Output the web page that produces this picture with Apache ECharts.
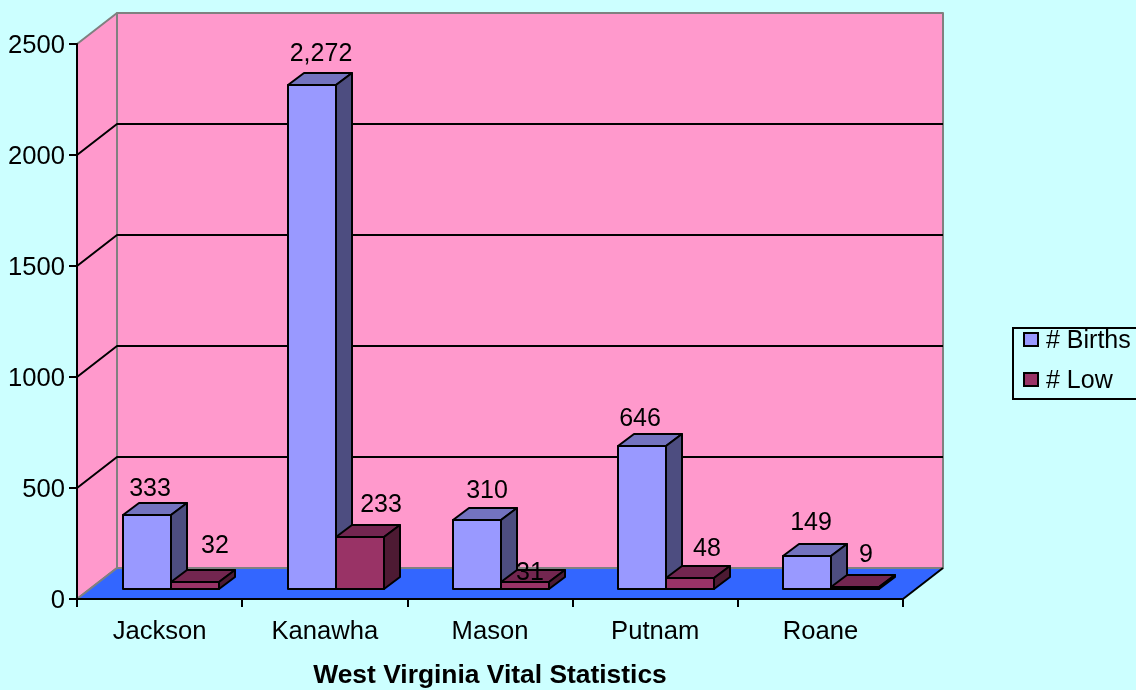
<!DOCTYPE html>
<html>
<head>
<meta charset="utf-8">
<style>html,body{margin:0;padding:0;background:#CCFFFF}#c{width:1136px;height:690px}</style>
<script src="https://cdn.jsdelivr.net/npm/echarts@6/dist/echarts.min.js"></script>
</head>
<body>
<div id="c"></div>
<script>
const categories = ['Jackson', 'Kanawha', 'Mason', 'Putnam', 'Roane'];
const births = [333, 2272, 310, 646, 149];
const low = [32, 233, 31, 48, 9];
const wallTicks = [500, 1000, 1500, 2000];
const axisTitle = 'West Virginia Vital Statistics';

// label placement relative to the bar's front-top centre (hand placed in the original)
const birthsNudge = [[3, -26], [9, -31], [10, -29], [-2, -27], [4, -33]];
const lowNudge = [[20, -36], [21, -32], [5, -9], [17, -29], [11, -32]];

const FONT = '"Liberation Sans", Arial, sans-serif';
const FS = 25;
const DEPTH = [40, -31];
const BAR_OFF = [13, -10];
const BAR_DEPTH = [16, -12];
const BAR_W = 48;

function poly(points, fill, stroke, lw) {
  return { type: 'polygon', silent: true, shape: { points },
    style: { fill, stroke: stroke || 'none', lineWidth: lw || 0, lineJoin: 'round' } };
}
function line(points, stroke) {
  return { type: 'polyline', silent: true, shape: { points },
    style: { fill: 'none', stroke, lineWidth: 2, lineJoin: 'round' } };
}

function renderRoom(params) {
  const g = params.coordSys;
  const l = g.x, r = g.x + g.width, t = g.y, b = g.y + g.height;
  const [dx, dy] = DEPTH;
  const grey = '#808080';
  return { type: 'group', children: [
    poly([[l + dx, t + dy], [r + dx, t + dy], [r + dx, b + dy], [l + dx, b + dy]], '#FF99CC', grey, 2),
    poly([[l, t], [l + dx, t + dy], [l + dx, b + dy], [l, b]], '#FF99CC', grey, 2),
    poly([[l, b], [l + dx, b + dy], [r + dx, b + dy], [r, b]], '#3366FF'),
    line([[l, b], [l + dx, b + dy], [r + dx, b + dy]], grey),
    line([[r + dx, b + dy], [r, b]], '#000')
  ] };
}

function renderWallTick(params, api) {
  const g = params.coordSys;
  const y = Math.round(api.coord([0, api.value(1)])[1]);
  const l = g.x, r = g.x + g.width;
  const [dx, dy] = DEPTH;
  return line([[l, y], [l + dx, y + dy], [r + dx, y + dy]], '#000');
}

function makeBar(slot, nudge, front, top, side) {
  return function (params, api) {
    const idx = api.value(0), val = api.value(1);
    const c = api.coord([idx, 0]);
    const p = api.coord([idx, val]);
    const x0 = Math.round(c[0] - 36 + slot * BAR_W) - 1;
    const x1 = x0 + BAR_W;
    const yb = Math.round(c[1] + BAR_OFF[1]);
    const yt = Math.round(p[1] + BAR_OFF[1]);
    const [bx, by] = BAR_DEPTH;
    const n = nudge[params.dataIndex];
    return { type: 'group', children: [
      poly([[x0, yt], [x0 + bx, yt + by], [x1 + bx, yt + by], [x1, yt]], top, '#000', 2),
      poly([[x1, yt], [x1 + bx, yt + by], [x1 + bx, yb + by], [x1, yb]], side, '#000', 2),
      poly([[x0, yt], [x1, yt], [x1, yb], [x0, yb]], front, '#000', 2),
      { type: 'text', silent: true, z2: 10,
        style: { x: (x0 + x1) / 2 + n[0], y: yt + n[1],
          text: val.toLocaleString('en-US'), fill: '#000',
          font: FS + 'px ' + FONT, align: 'center', verticalAlign: 'middle' } }
    ] };
  };
}

const chart = echarts.init(document.getElementById('c'), null, { renderer: 'canvas' });
chart.setOption({
  animation: false,
  backgroundColor: '#CCFFFF',
  textStyle: { fontFamily: FONT },
  grid: { left: 77, right: 233, top: 44, bottom: 91, outerBoundsMode: 'none', containLabel: false },
  legend: {
    left: 1013, top: 328, orient: 'vertical',
    padding: [1, 14, 5, 10], itemGap: 15, itemWidth: 14, itemHeight: 13,
    borderColor: '#000', borderWidth: 2, icon: 'rect',
    formatter: '{a|{name}}',
    textStyle: { color: '#000', fontSize: FS, fontFamily: FONT,
      rich: { a: { color: '#000', fontSize: FS, fontFamily: FONT, padding: [4, 0, 0, 3] } } },
    data: ['# Births', '# Low']
  },
  xAxis: {
    type: 'category', data: categories, z: 1.5,
    axisLine: { show: true, lineStyle: { color: '#000', width: 2 } },
    axisTick: { show: true, alignWithLabel: false, length: 8, lineStyle: { color: '#000', width: 2 } },
    axisLabel: { color: '#000', fontSize: 25.6, fontFamily: FONT, margin: 20 },
    name: axisTitle, nameLocation: 'middle', nameGap: 64,
    nameTextStyle: { color: '#000', fontSize: 26.4, fontWeight: 'bold', fontFamily: FONT },
    splitLine: { show: false }
  },
  yAxis: {
    type: 'value', min: 0, max: 2500, interval: 500, z: 1.5,
    axisLine: { show: true, lineStyle: { color: '#000', width: 2 } },
    axisTick: { show: true, length: 8, lineStyle: { color: '#000', width: 2 } },
    axisLabel: { color: '#000', fontSize: 25.6, fontFamily: FONT, margin: 12,
      formatter: v => '{a|' + v + '}',
      rich: { a: { color: '#000', fontSize: 25.6, fontFamily: FONT, padding: [4, 0, 0, 0] } } },
    splitLine: { show: false }
  },
  series: [
    { type: 'custom', name: 'room', z: 1, clip: false, silent: true, renderItem: renderRoom, data: [[0, 0]] },
    { type: 'custom', name: 'wall', z: 1, clip: false, silent: true, renderItem: renderWallTick,
      data: wallTicks.map(v => [0, v]) },
    { type: 'custom', name: '# Births', z: 2, clip: false, silent: true,
      itemStyle: { color: '#9999FF', borderColor: '#000', borderWidth: 2 },
      renderItem: makeBar(0, birthsNudge, '#9999FF', '#7373BF', '#4D4D80'),
      encode: { x: 0, y: 1 }, data: births.map((v, i) => [i, v]) },
    { type: 'custom', name: '# Low', z: 2, clip: false, silent: true,
      itemStyle: { color: '#993366', borderColor: '#000', borderWidth: 2 },
      renderItem: makeBar(1, lowNudge, '#993366', '#732650', '#4D1A33'),
      encode: { x: 0, y: 1 }, data: low.map((v, i) => [i, v]) }
  ]
});
</script>
</body>
</html>
